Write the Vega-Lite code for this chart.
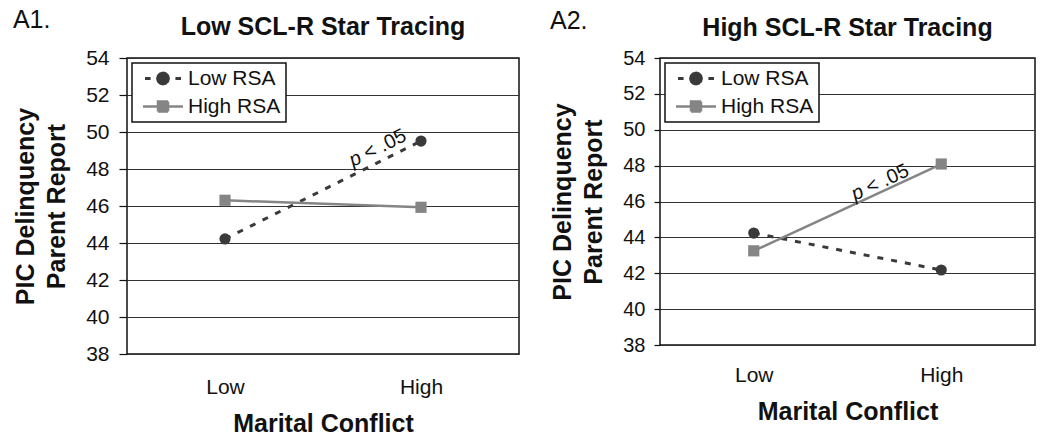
{
  "$schema": "https://vega.github.io/schema/vega-lite/v6.json",
  "background": "white",
  "padding": {"left": 12, "top": 8, "right": 0, "bottom": 0},
  "config": {
    "font": "Liberation Sans",
    "view": {"stroke": "#111111", "strokeWidth": 1.5},
    "axis": {"labelColor": "#111111", "titleColor": "#111111", "labelFont": "Liberation Sans", "titleFont": "Liberation Sans", "titleFontWeight": "bold", "titleFontSize": 25, "domain": false, "labelOverlap": false},
    "axisY": {"grid": true, "gridColor": "#333333", "gridWidth": 1.2, "tickColor": "#111111", "tickSize": 8, "tickWidth": 1.2, "labelFontSize": 21, "labelPadding": 10, "titleLineHeight": 31},
    "axisX": {"grid": false, "ticks": false, "labelFontSize": 21, "labelPadding": 22, "titlePadding": 14, "labelAngle": 0},
    "title": {"font": "Liberation Sans", "fontSize": 25, "fontWeight": "bold", "color": "#111111"},
    "legend": {"title": null, "orient": "top-left", "offset": 5, "padding": 5, "strokeColor": "#111111", "fillColor": "white", "labelFontSize": 21, "labelColor": "#111111", "labelOffset": 30, "rowPadding": 5, "symbolSize": 1600},
    "concat": {"spacing": 30}
  },
  "resolve": {"scale": {"color": "independent"}, "legend": {"color": "independent"}},
  "datasets": {
    "a1": [
      {"rsa": "Low RSA", "conflict": 0, "pic": 44.22},
      {"rsa": "Low RSA", "conflict": 1, "pic": 49.51},
      {"rsa": "High RSA", "conflict": 0, "pic": 46.31},
      {"rsa": "High RSA", "conflict": 1, "pic": 45.93}
    ],
    "a2": [
      {"rsa": "Low RSA", "conflict": 0, "pic": 44.24},
      {"rsa": "Low RSA", "conflict": 1, "pic": 42.18},
      {"rsa": "High RSA", "conflict": 0, "pic": 43.25},
      {"rsa": "High RSA", "conflict": 1, "pic": 48.09}
    ],
    "a1note": [{"conflict": 0.72, "pic": 48.03, "p": "p", "rest": "< .05"}],
    "a2note": [{"conflict": 0.6, "pic": 46.15, "p": "p", "rest": "< .05"}]
  },
  "hconcat": [
    {
      "title": {"text": "A1.", "anchor": "start", "frame": "bounds", "fontSize": 25, "fontWeight": "normal", "offset": -19},
      "hconcat": [
        {
          "width": 392,
          "height": 296,
          "title": {"text": "Low SCL-R Star Tracing", "offset": 7},
          "data": {"name": "a1"},
          "encoding": {
            "x": {"field": "conflict", "type": "quantitative", "scale": {"domain": [-0.5, 1.5]}, "axis": {"values": [0, 1], "labelExpr": "datum.value == 0 ? 'Low' : 'High'", "title": "Marital Conflict"}},
            "y": {"field": "pic", "type": "quantitative", "scale": {"domain": [38, 54], "nice": false, "zero": false}, "axis": {"values": [38, 40, 42, 44, 46, 48, 50, 52, 54], "title": ["PIC Delinquency", "Parent Report"], "titlePadding": 16}},
            "color": {"field": "rsa", "type": "nominal", "scale": {"domain": ["Low RSA", "High RSA"], "range": ["#3a3a3a", "#858585"]},
              "legend": {"encode": {"symbols": {"update": {
                "shape": {"signal": "datum.value === 'Low RSA' ? 'M-0.125,0L0.155,0M1.395,0L1.675,0M1.045,0L1.009,0.135L0.91,0.234L0.775,0.27L0.64,0.234L0.541,0.135L0.505,0L0.541,-0.135L0.64,-0.234L0.775,-0.27L0.91,-0.234L1.009,-0.135Z' : 'M-0.225,0L1.775,0M0.525,-0.25L1.025,-0.25L1.025,0.25L0.525,0.25Z'"},
                "fill": {"signal": "datum.value === 'Low RSA' ? '#3a3a3a' : '#858585'"},
                "stroke": {"signal": "datum.value === 'Low RSA' ? '#3a3a3a' : '#858585'"},
                "strokeWidth": {"signal": "datum.value === 'Low RSA' ? 3 : 2.5"},
                "strokeDash": {"value": [1, 0]},
                "size": {"value": 1600},
                "opacity": {"value": 1}
              }}, "legend": {"update": {"strokeWidth": {"value": 1.5}}}}}}
          },
          "layer": [
            {"transform": [{"filter": "datum.rsa === 'Low RSA'"}], "mark": {"type": "line", "strokeDash": [6, 8], "strokeWidth": 3}},
            {"transform": [{"filter": "datum.rsa === 'High RSA'"}], "mark": {"type": "line", "strokeWidth": 2.5}},
            {"transform": [{"filter": "datum.rsa === 'Low RSA'"}], "mark": {"type": "point", "shape": "circle", "filled": true, "size": 125, "opacity": 1}},
            {"transform": [{"filter": "datum.rsa === 'High RSA'"}], "mark": {"type": "point", "shape": "square", "filled": true, "size": 125, "opacity": 1}},
            {
              "data": {"name": "a1note"},
              "mark": {"type": "text", "fontStyle": "italic", "align": "right", "baseline": "alphabetic", "angle": 333.6, "dy": -7, "fontSize": 20},
              "encoding": {"text": {"field": "p"}, "color": {"value": "#111111"}}
            },
            {
              "data": {"name": "a1note"},
              "mark": {"type": "text", "align": "left", "baseline": "alphabetic", "angle": 333.6, "dy": -7, "dx": 5, "fontSize": 20},
              "encoding": {"text": {"field": "rest"}, "color": {"value": "#111111"}}
            }
          ]
        }
      ]
    },
    {
      "title": {"text": "A2.", "anchor": "start", "frame": "bounds", "fontSize": 25, "fontWeight": "normal", "offset": -19},
      "hconcat": [
        {
          "width": 375,
          "height": 287,
          "title": {"text": "High SCL-R Star Tracing", "offset": 7},
          "data": {"name": "a2"},
          "encoding": {
            "x": {"field": "conflict", "type": "quantitative", "scale": {"domain": [-0.5, 1.5]}, "axis": {"values": [0, 1], "labelExpr": "datum.value == 0 ? 'Low' : 'High'", "title": "Marital Conflict", "labelPadding": 19}},
            "y": {"field": "pic", "type": "quantitative", "scale": {"domain": [38, 54], "nice": false, "zero": false}, "axis": {"values": [38, 40, 42, 44, 46, 48, 50, 52, 54], "title": ["PIC Delinquency", "Parent Report"], "titlePadding": 16, "labelPadding": 9, "tickSize": 6, "labelFontSize": 20}},
            "color": {"field": "rsa", "type": "nominal", "scale": {"domain": ["Low RSA", "High RSA"], "range": ["#3a3a3a", "#858585"]},
              "legend": {"encode": {"symbols": {"update": {
                "shape": {"signal": "datum.value === 'Low RSA' ? 'M-0.125,0L0.155,0M1.395,0L1.675,0M1.045,0L1.009,0.135L0.91,0.234L0.775,0.27L0.64,0.234L0.541,0.135L0.505,0L0.541,-0.135L0.64,-0.234L0.775,-0.27L0.91,-0.234L1.009,-0.135Z' : 'M-0.225,0L1.775,0M0.525,-0.25L1.025,-0.25L1.025,0.25L0.525,0.25Z'"},
                "fill": {"signal": "datum.value === 'Low RSA' ? '#3a3a3a' : '#858585'"},
                "stroke": {"signal": "datum.value === 'Low RSA' ? '#3a3a3a' : '#858585'"},
                "strokeWidth": {"signal": "datum.value === 'Low RSA' ? 3 : 2.5"},
                "strokeDash": {"value": [1, 0]},
                "size": {"value": 1600},
                "opacity": {"value": 1}
              }}, "legend": {"update": {"strokeWidth": {"value": 1.5}}}}}}
          },
          "layer": [
            {"transform": [{"filter": "datum.rsa === 'Low RSA'"}], "mark": {"type": "line", "strokeDash": [6, 8], "strokeWidth": 3}},
            {"transform": [{"filter": "datum.rsa === 'High RSA'"}], "mark": {"type": "line", "strokeWidth": 2.5}},
            {"transform": [{"filter": "datum.rsa === 'Low RSA'"}], "mark": {"type": "point", "shape": "circle", "filled": true, "size": 125, "opacity": 1}},
            {"transform": [{"filter": "datum.rsa === 'High RSA'"}], "mark": {"type": "point", "shape": "square", "filled": true, "size": 125, "opacity": 1}},
            {
              "data": {"name": "a2note"},
              "mark": {"type": "text", "fontStyle": "italic", "align": "right", "baseline": "alphabetic", "angle": 335.2, "dy": -3, "fontSize": 20},
              "encoding": {"text": {"field": "p"}, "color": {"value": "#111111"}}
            },
            {
              "data": {"name": "a2note"},
              "mark": {"type": "text", "align": "left", "baseline": "alphabetic", "angle": 335.2, "dy": -3, "dx": 5, "fontSize": 20},
              "encoding": {"text": {"field": "rest"}, "color": {"value": "#111111"}}
            }
          ]
        }
      ]
    }
  ]
}
